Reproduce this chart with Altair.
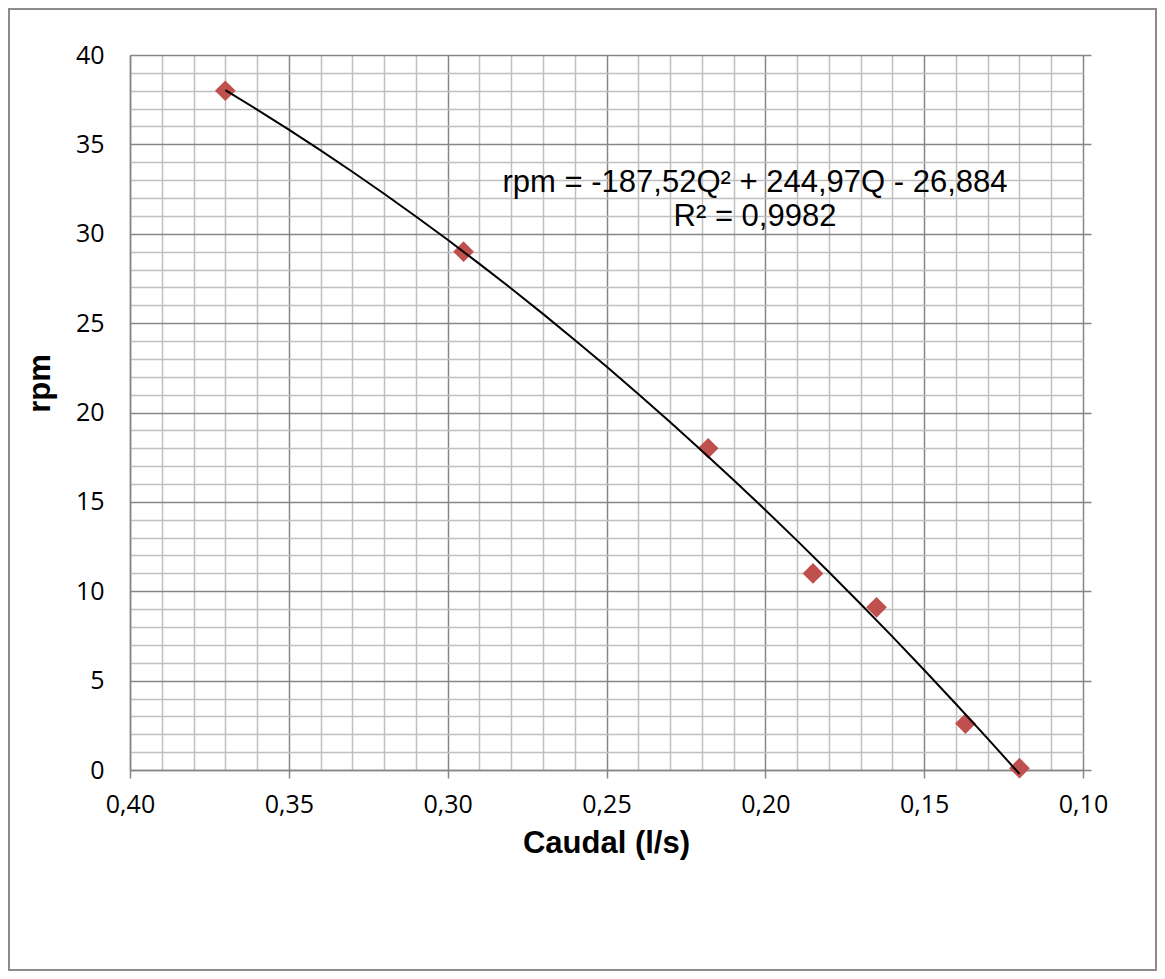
import altair as alt
import pandas as pd

# ---- data ----
caudal = [0.370, 0.295, 0.218, 0.185, 0.165, 0.137, 0.120]
rpm = [38.0, 29.0, 18.0, 11.0, 9.1, 2.6, 0.1]

x_grid_values = [0.10, 0.11, 0.12, 0.13, 0.14, 0.15, 0.16, 0.17, 0.18, 0.19,
                 0.20, 0.21, 0.22, 0.23, 0.24, 0.25, 0.26, 0.27, 0.28, 0.29,
                 0.30, 0.31, 0.32, 0.33, 0.34, 0.35, 0.36, 0.37, 0.38, 0.39, 0.40]
y_grid_values = list(range(0, 41))
y_major_values = [0, 5, 10, 15, 20, 25, 30, 35, 40]

eq_line_1 = ["rpm = -187,52Q² + 244,97Q - 26,884"]
eq_line_2 = ["R² = 0,9982"]

df = pd.DataFrame({"Q": caudal, "rpm": rpm})

MAJOR = "#868686"
MINOR = "#c0c0c0"
LABEL_FONT = "Open Sans"
TITLE_FONT = "Liberation Sans"

x_major_test = "abs(datum.value*20 - round(datum.value*20)) < 0.001"
y_major_test = "datum.value % 5 === 0"

x_scale = alt.Scale(domain=[0.10, 0.40], reverse=True, nice=False, zero=False)
y_scale = alt.Scale(domain=[0, 40], nice=False, zero=False)

x_axis = alt.Axis(
    values=x_grid_values,
    orient="bottom",
    grid=True,
    gridColor={"condition": {"test": x_major_test, "value": MAJOR}, "value": MINOR},
    gridWidth=1.5,
    ticks=True,
    tickSize={"condition": {"test": x_major_test, "value": 8}, "value": 0},
    tickColor=MAJOR,
    tickWidth=1.5,
    domain=True,
    domainColor=MAJOR,
    domainWidth=1.5,
    labelExpr=f"({x_major_test}) ? replace(format(datum.value, '.2f'), '.', ',') : ''",
    labelFont=LABEL_FONT,
    labelFontSize=25,
    labelColor="black",
    labelBaseline="middle",
    labelPadding=26,
    labelFlush=False,
    labelOverlap=False,
    title="Caudal (l/s)",
    titleFont=TITLE_FONT,
    titleFontSize=31,
    titleFontWeight="bold",
    titleColor="black",
    titleX=476,
    titleY=73,
    titleAlign="center",
    titleBaseline="middle",
)

y_axis = alt.Axis(
    values=y_grid_values,
    orient="left",
    grid=True,
    gridColor={"condition": {"test": y_major_test, "value": MAJOR}, "value": MINOR},
    gridWidth=1.5,
    ticks=False,
    tickSize=0,
    domain=True,
    domainColor=MAJOR,
    domainWidth=1.5,
    labelExpr=f"({y_major_test}) ? datum.value : ''",
    labelFont=LABEL_FONT,
    labelFontSize=25,
    labelColor="black",
    labelBaseline="middle",
    labelPadding=26,
    labelFlush=False,
    labelOverlap=False,
    title="rpm",
    titleFont=TITLE_FONT,
    titleFontSize=31,
    titleFontWeight="bold",
    titleColor="black",
    titleAngle=270,
    titleX=-90,
    titleY=328,
    titleAlign="center",
    titleBaseline="middle",
)

y_axis_right = alt.Axis(
    values=y_major_values,
    orient="right",
    grid=False,
    ticks=True,
    tickSize=8,
    tickColor=MAJOR,
    tickWidth=1.5,
    domain=False,
    labels=False,
    title=None,
)

points = alt.Chart(df).mark_point(
    shape="diamond", filled=True, color="#C0504D", size=430, opacity=1
).encode(
    x=alt.X("Q:Q", scale=x_scale, axis=x_axis),
    y=alt.Y("rpm:Q", scale=y_scale, axis=y_axis),
)

trend = alt.Chart(df).transform_regression(
    "Q", "rpm", method="poly", order=2
).mark_line(color="black", strokeWidth=2).encode(
    x=alt.X("Q:Q", scale=x_scale, axis=None),
    y=alt.Y("rpm:Q", scale=y_scale, axis=y_axis_right),
)

txt1 = alt.Chart(pd.DataFrame({"t": eq_line_1})).mark_text(
    font=TITLE_FONT, fontSize=31, color="black", align="center", baseline="middle"
).encode(text="t:N", x=alt.value(625), y=alt.value(128))

txt2 = alt.Chart(pd.DataFrame({"t": eq_line_2})).mark_text(
    font=TITLE_FONT, fontSize=31, color="black", align="center", baseline="middle"
).encode(text="t:N", x=alt.value(625), y=alt.value(162))

frame = alt.Chart(pd.DataFrame({"f": [0]})).mark_rect(
    fill="white", fillOpacity=0, stroke="#8c8c8c", strokeWidth=2
).encode(
    x=alt.value(-121), x2=alt.value(1026), y=alt.value(-46), y2=alt.value(915)
)

chart = alt.layer(frame, points, trend, txt1, txt2).resolve_axis(
    x="independent", y="independent"
).properties(
    width=953,
    height=715,
    autosize=alt.AutoSizeParams(type="none"),
    padding={"left": 122, "top": 47, "right": 74, "bottom": 201},
    background="white",
).configure_view(strokeWidth=0)

chart.save("out.html", embed_options={"renderer": "svg", "actions": False})
